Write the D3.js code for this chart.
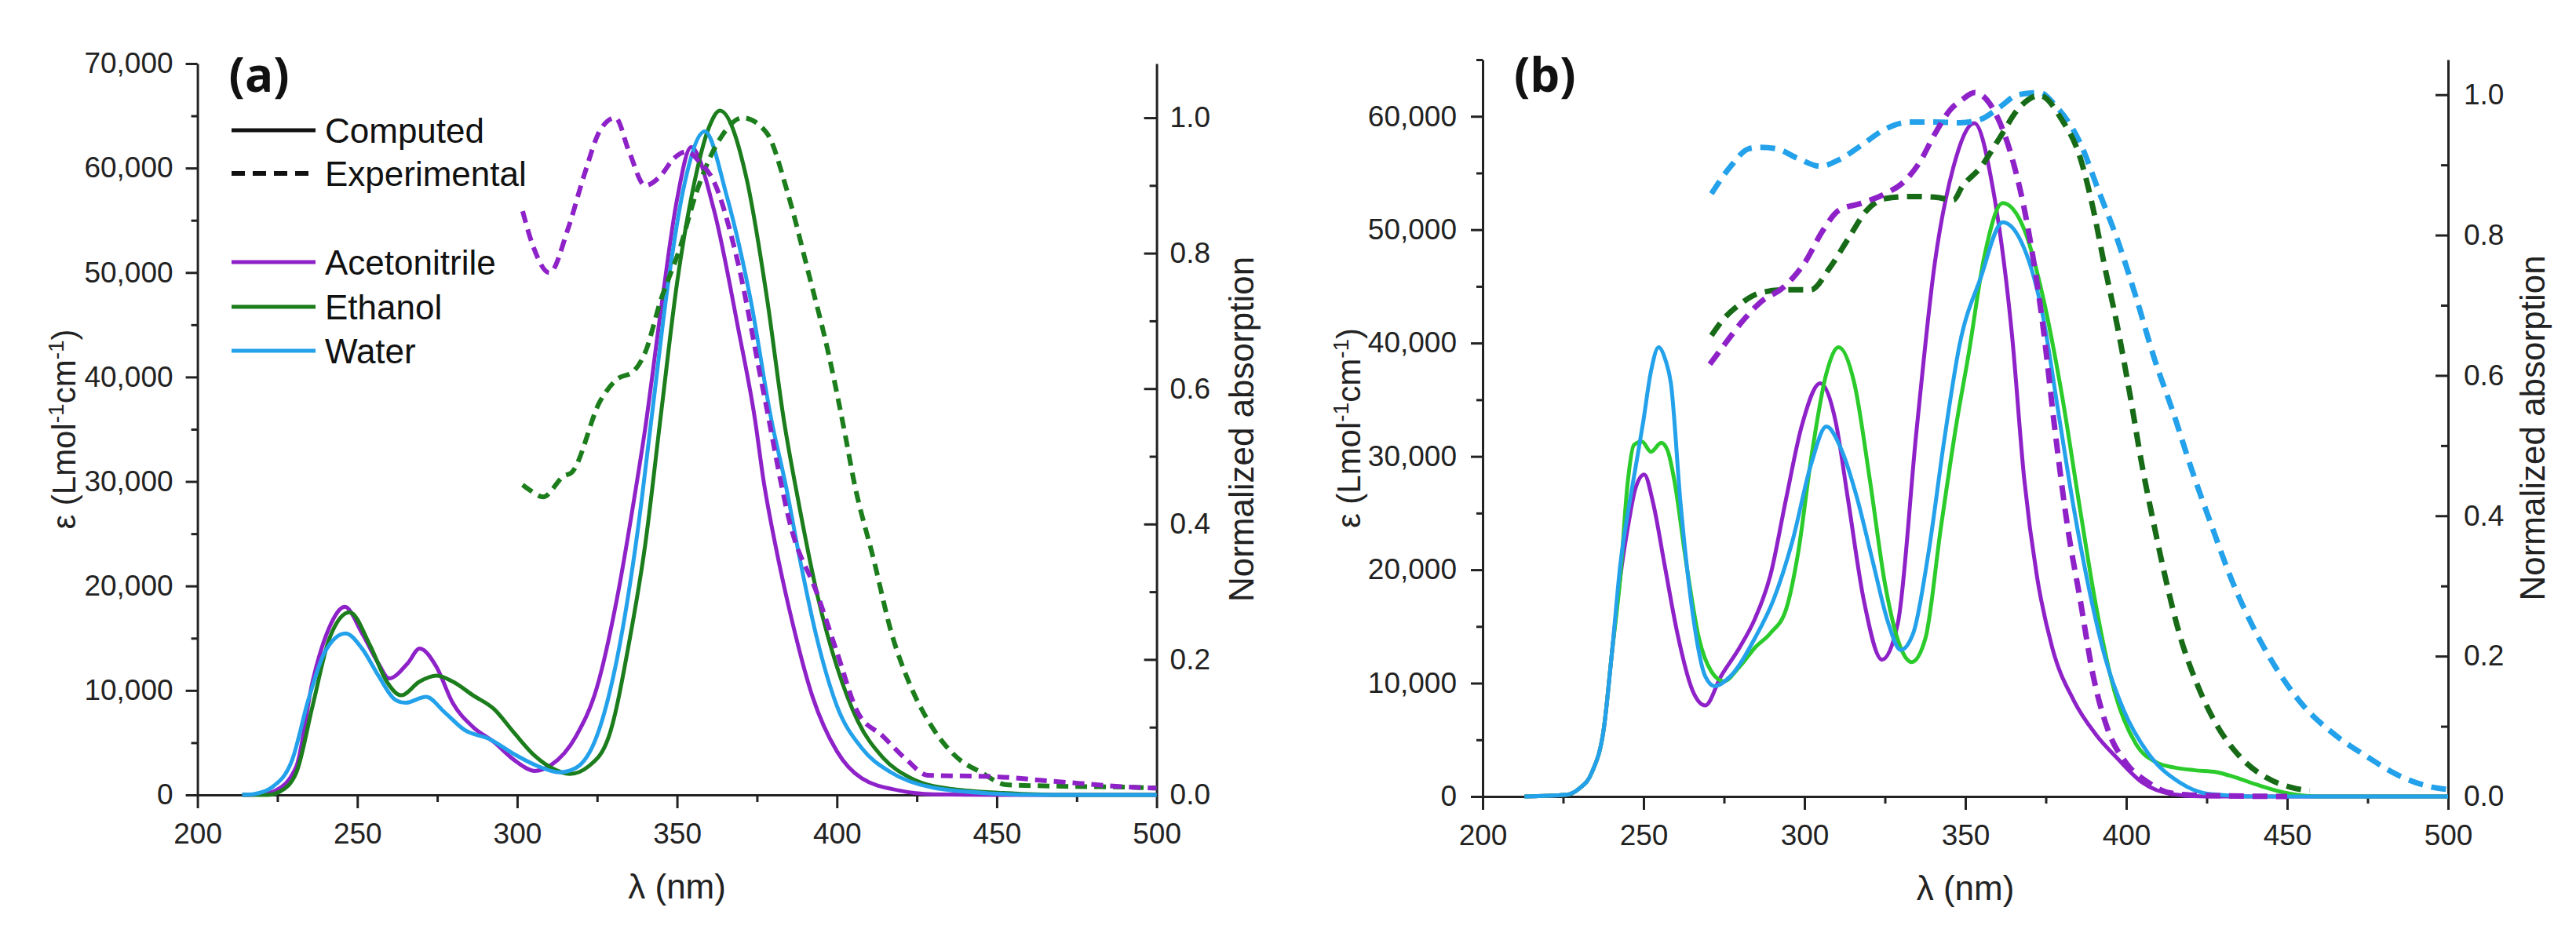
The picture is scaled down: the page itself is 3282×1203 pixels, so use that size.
<!DOCTYPE html>
<html>
<head>
<meta charset="utf-8">
<script src="https://cdn.jsdelivr.net/npm/d3@7"></script>
<style>
  body { margin: 0; background: #fff; }
  svg { display: block; font-family: 'Liberation Sans', Arial, sans-serif; }
</style>
</head>
<body>
<div id="chart"></div>
<script>
//
// Absorption spectra, computed (ε, left axis) and experimental (normalised, right axis)
//
const legendKinds = ['Computed', 'Experimental']
const solvents = ['Acetonitrile', 'Ethanol', 'Water']

const wavelengthTicks = [200, 250, 300, 350, 400, 450, 500]
const wavelengthMinorTicks = [225, 275, 325, 375, 425, 475]
const aEpsilonTicks = [0, 10000, 20000, 30000, 40000, 50000, 60000, 70000]
const aEpsilonMinorTicks = [5000, 15000, 25000, 35000, 45000, 55000, 65000]
const bEpsilonTicks = [0, 10000, 20000, 30000, 40000, 50000, 60000]
const bEpsilonMinorTicks = [5000, 15000, 25000, 35000, 45000, 55000, 65000]
const normTicks = [0, 0.2, 0.4, 0.6, 0.8, 1.0]
const normMinorTicks = [0.1, 0.3, 0.5, 0.7, 0.9]

// panel (a): [nm, ε] computed
const aAcnComputed = [[214, 0], [220, 80], [224.4, 420], [230.9, 2700], [236, 10850], [241.2, 16000], [246.1, 18000], [251.5, 15460], [256.6, 12580], [259.9, 11150], [265.7, 12580], [269.5, 14000], [274.7, 12280], [279.8, 8820], [286.2, 6490], [292.7, 5060], [299.1, 3330], [305.5, 2300], [310.7, 2880], [318.4, 5620], [324.9, 10250], [331.3, 18930], [336.5, 28180], [340, 35000], [345, 46500], [350, 57000], [354.4, 62000], [361.5, 56040], [369.2, 44530], [374.4, 35900], [377, 30210], [380.8, 23860], [386, 16620], [392.4, 9380], [400, 4180], [407.8, 1580], [419.5, 420], [430, 60], [450, 0], [500, 0]]
const aEthanolComputed = [[214, 0], [222, 0], [225.7, 300], [230.9, 2130], [236, 8520], [241.2, 14920], [247.6, 17480], [254, 14300], [259.2, 10850], [263.7, 9530], [269.5, 10850], [274.7, 11410], [279.8, 10850], [286.2, 9530], [292.7, 8230], [299.1, 5920], [305.5, 3740], [310.7, 2590], [316.5, 2010], [322.3, 2730], [328.7, 5620], [335.2, 14910], [340, 23860], [345, 36500], [350, 49000], [355, 58000], [360, 63900], [363.4, 65500], [371.8, 58920], [378.2, 47410], [383.4, 35900], [387.9, 28180], [393.6, 19510], [400, 12280], [406.5, 7090], [414.3, 3600], [423.3, 1580], [436, 560], [455.5, 135], [470, 0], [500, 0]]
const aWaterComputed = [[214, 0], [218, 100], [223.2, 710], [229.6, 3330], [234.7, 9120], [239.9, 13720], [246.3, 15460], [251.5, 14000], [256.6, 11410], [261.8, 9120], [265, 8820], [271.5, 9380], [277.2, 7940], [283.6, 6200], [291.4, 5340], [299.1, 3890], [305.5, 2880], [313.3, 2160], [318.4, 2590], [324.9, 5620], [331.3, 13140], [337.7, 25300], [342, 36000], [347, 48500], [352, 58000], [358.7, 63500], [365.4, 57490], [373, 47410], [379.5, 35900], [384, 29640], [388.5, 22430], [393.6, 15170], [400, 8520], [407.8, 4470], [416.9, 2160], [429.8, 710], [449, 135], [465, 0], [500, 0]]
// panel (a): [nm, normalised absorption] experimental
const aAcnExperimental = [[301.7, 0.862], [305, 0.81], [310.1, 0.771], [315.9, 0.836], [321, 0.916], [326, 0.982], [330.7, 1.0], [335, 0.95], [340, 0.9], [345, 0.915], [349, 0.94], [353, 0.95], [357, 0.935], [361.5, 0.906], [368.6, 0.795], [377, 0.596], [386, 0.389], [393.6, 0.3], [400, 0.211], [406.5, 0.122], [414.3, 0.087], [422, 0.051], [428.4, 0.029], [449, 0.027], [468, 0.02], [494, 0.011], [500, 0.01]]
const aEthanolExperimental = [[301.7, 0.458], [304, 0.45], [308.1, 0.44], [314.6, 0.471], [317, 0.476], [326, 0.582], [331, 0.613], [336.5, 0.626], [340, 0.653], [344.8, 0.729], [351, 0.809], [356, 0.889], [364, 0.973], [370.5, 1.0], [378, 0.978], [384.6, 0.889], [391, 0.773], [397.5, 0.649], [402.7, 0.529], [405.3, 0.464], [411.7, 0.344], [416.9, 0.242], [423.3, 0.158], [429.8, 0.1], [437.4, 0.056], [445.2, 0.033], [453, 0.015], [468, 0.013], [494, 0.011], [500, 0.01]]

// panel (b): [nm, ε] computed
const bAcnComputed = [[213, 0], [226, 150], [230, 700], [233.9, 2100], [237.7, 6090], [240.2, 12750], [242.8, 19420], [245.4, 24200], [247.5, 27200], [250.2, 28400], [253, 25850], [256.6, 20330], [260.5, 14400], [265.3, 9300], [269.2, 8030], [274, 10580], [279.8, 13120], [284.6, 15670], [289.4, 19490], [294.3, 26270], [299.1, 32630], [304.9, 36450], [309.7, 33060], [313.5, 26270], [318.4, 17370], [324.1, 12070], [329, 15250], [334.8, 32200], [340.5, 47050], [346.3, 55540], [352.8, 59400], [358.7, 53410], [364.5, 40690], [368.3, 27980], [372.2, 19490], [377, 13120], [383.7, 8460], [390.5, 5490], [397.2, 3370], [404.9, 1250], [414.6, 200], [425, 0], [500, 0]]
const bEthanolComputed = [[213, 0], [226, 150], [230, 700], [233.9, 2100], [237.7, 6090], [240.2, 12750], [242.8, 19420], [245, 27500], [247, 31000], [249.5, 31300], [252.3, 30400], [255.5, 31200], [257.5, 30500], [259.5, 27980], [263.4, 20330], [267.2, 13970], [271.1, 11010], [274.9, 10160], [279.8, 11430], [284.6, 13120], [289.4, 14400], [294.3, 16520], [298.1, 21610], [302, 29670], [306.8, 37300], [310.6, 39630], [315.5, 36450], [320.3, 27980], [325.1, 18640], [329.9, 13120], [333.3, 11860], [337.6, 13970], [342.4, 23730], [347.3, 33000], [351, 39000], [355.8, 47500], [361.6, 52350], [368.3, 50020], [374.1, 44090], [379.9, 35600], [385.6, 25420], [390.5, 16970], [396.3, 9310], [403, 4640], [409.8, 2950], [415, 2550], [421.4, 2310], [428, 2150], [433.9, 1680], [440.6, 1040], [450.2, 280], [460, 0], [500, 0]]
const bWaterComputed = [[213, 0], [226, 150], [230, 700], [233.9, 2100], [237.7, 6090], [240.2, 12750], [242.8, 20500], [245.4, 25500], [247.5, 29000], [249.9, 33060], [252.3, 37500], [254.7, 39630], [256.8, 38500], [258.5, 36450], [261.5, 25850], [265.3, 16090], [269.2, 10580], [272.1, 9730], [276.9, 10580], [284.6, 13970], [290.4, 17370], [296.2, 22460], [302, 29240], [306.8, 32630], [311.6, 30510], [316.4, 26270], [321.2, 20760], [326.1, 15250], [329.9, 12920], [333.8, 14400], [338.6, 21610], [343.4, 31370], [348.2, 39840], [354.8, 45780], [361.6, 50660], [368.3, 48340], [374.1, 42380], [378.9, 33900], [383.7, 25420], [388.5, 18210], [393.4, 12280], [399.2, 7620], [406.8, 3810], [416.5, 1250], [426.2, 200], [440, 0], [500, 0]]
// panel (b): [nm, normalised absorption] experimental
const bAcnExperimental = [[270.6, 0.616], [275, 0.643], [280.7, 0.677], [286.5, 0.705], [293.3, 0.725], [300, 0.76], [305.8, 0.807], [310.6, 0.835], [317.4, 0.845], [325.1, 0.859], [330.9, 0.876], [335.7, 0.903], [340.5, 0.944], [345.4, 0.979], [349, 0.993], [352.9, 1.003], [358.7, 0.979], [364.5, 0.91], [369.3, 0.814], [374.1, 0.671], [377.9, 0.52], [381.8, 0.383], [385.7, 0.28], [389.5, 0.177], [394.3, 0.095], [400.1, 0.047], [406.8, 0.02], [412.7, 0.006], [420, 0.002], [450, 0]]
const bEthanolExperimental = [[271.1, 0.657], [275, 0.681], [279.8, 0.701], [286.5, 0.718], [294.3, 0.722], [302, 0.722], [307.8, 0.753], [313.5, 0.794], [319.3, 0.835], [325.1, 0.852], [332.8, 0.855], [340.5, 0.854], [346.3, 0.85], [349, 0.869], [354.8, 0.897], [360.6, 0.938], [366.3, 0.979], [373.1, 0.999], [379.9, 0.965], [385.7, 0.91], [389.5, 0.842], [393.4, 0.753], [397.2, 0.671], [401.1, 0.574], [404.9, 0.472], [408.8, 0.383], [412.7, 0.301], [416.5, 0.232], [422.3, 0.157], [428.1, 0.102], [435.9, 0.054], [443.5, 0.027], [451.2, 0.013], [457, 0.008]]
const bWaterExperimental = [[271.1, 0.859], [276.9, 0.897], [282.7, 0.923], [286.5, 0.925], [291.3, 0.923], [298.1, 0.909], [304.9, 0.898], [310.6, 0.907], [317.4, 0.927], [325.1, 0.951], [332.8, 0.961], [340.5, 0.961], [348.2, 0.96], [354.8, 0.965], [360.6, 0.982], [366.3, 1.0], [373.1, 1.003], [377.9, 0.985], [385.7, 0.931], [391.5, 0.862], [397.2, 0.794], [403, 0.712], [408.8, 0.623], [414.6, 0.547], [420.4, 0.465], [426.2, 0.39], [432.9, 0.307], [439.7, 0.239], [447.4, 0.177], [455.1, 0.129], [464.8, 0.088], [474.4, 0.058], [486, 0.027], [496.6, 0.012], [500, 0.01]]

//
// colours
//
const purple = '#8e22c8'
const darkGreen = '#1b7d1b'
const blue = '#23a1ea'
const brightGreen = '#2bcb2b'
const deepGreen = '#176b17'
const axisColour = '#222'

const svg = d3.select('#chart')
  .append('svg')
  .attr('width', 3282)
  .attr('height', 1203)

//
// style an axis group
//
function styleAxis (sel, fontSize) {
  sel.select('.domain').attr('stroke', axisColour).attr('stroke-width', 3)
  sel.selectAll('.tick line').attr('stroke', axisColour).attr('stroke-width', 3)
  sel.selectAll('.tick text')
    .attr('fill', axisColour)
    .style('font-size', fontSize + 'px')
    .style('font-family', "'Liberation Sans', Arial, sans-serif")
}

function drawPanel (p) {
  const x = d3.scaleLinear().domain([200, 500]).range([p.left, p.right])
  const y = d3.scaleLinear().domain([0, p.epsMax]).range([p.bottom, p.top])
  const yn = d3.scaleLinear().domain([0, p.normMax]).range([p.bottom, p.top])
  const g = svg.append('g')

  // bottom axis
  g.append('g').attr('transform', 'translate(0,' + p.bottom + ')')
    .call(d3.axisBottom(x).tickValues(wavelengthTicks).tickSize(17).tickSizeOuter(0).tickPadding(19))
    .call(s => styleAxis(s, 37))
  g.append('g').attr('transform', 'translate(0,' + p.bottom + ')')
    .call(d3.axisBottom(x).tickValues(wavelengthMinorTicks).tickSize(9).tickFormat(''))
    .call(s => { styleAxis(s, 37); s.select('.domain').remove() })

  // left axis
  g.append('g').attr('transform', 'translate(' + p.left + ',0)')
    .call(d3.axisLeft(y).tickValues(p.epsTicks).tickSize(15).tickSizeOuter(0).tickPadding(p.leftPad).tickFormat(d3.format(',')))
    .call(s => styleAxis(s, 37))
  g.append('g').attr('transform', 'translate(' + p.left + ',0)')
    .call(d3.axisLeft(y).tickValues(p.epsMinorTicks).tickSize(8).tickFormat(''))
    .call(s => { styleAxis(s, 37); s.select('.domain').remove() })

  // right axis, ticks pointing into the plot
  g.append('g').attr('transform', 'translate(' + p.right + ',0)')
    .call(d3.axisRight(yn).tickValues(normTicks).tickSize(-16).tickSizeOuter(0).tickPadding(p.rightPad).tickFormat(d3.format('.1f')))
    .call(s => styleAxis(s, 37))
  g.append('g').attr('transform', 'translate(' + p.right + ',0)')
    .call(d3.axisRight(yn).tickValues(normMinorTicks).tickSize(-9).tickFormat(''))
    .call(s => { styleAxis(s, 37); s.select('.domain').remove() })

  // axis titles
  const midY = (p.top + p.bottom) / 2
  g.append('text')
    .attr('x', (p.left + p.right) / 2).attr('y', p.bottom + 132)
    .attr('text-anchor', 'middle').attr('fill', axisColour)
    .style('font-size', '44px')
    .text('λ (nm)')

  const eps = g.append('text')
    .attr('transform', 'translate(' + (p.left - 156) + ',' + midY + ') rotate(-90)')
    .attr('text-anchor', 'middle').attr('fill', axisColour)
    .style('font-size', '42px')
  eps.append('tspan').text('ε (Lmol')
  eps.append('tspan').attr('dy', -15).style('font-size', '28px').text('-1')
  eps.append('tspan').attr('dy', 15).text('cm')
  eps.append('tspan').attr('dy', -15).style('font-size', '28px').text('-1')
  eps.append('tspan').attr('dy', 15).text(')')

  g.append('text')
    .attr('transform', 'translate(' + (p.right + 123) + ',' + midY + ') rotate(-90)')
    .attr('text-anchor', 'middle').attr('fill', axisColour)
    .style('font-size', '44px')
    .text('Normalized absorption')

  // panel letter
  g.append('text')
    .attr('x', p.left + 40).attr('y', 117)
    .attr('fill', '#111')
    .style('font-family', "'Open Sans', sans-serif")
    .style('font-weight', 700)
    .style('font-size', '60px')
    .text(p.label)

  // curves
  const lineEps = d3.line().x(d => x(d[0])).y(d => y(d[1])).curve(d3.curveMonotoneX)
  const lineNorm = d3.line().x(d => x(d[0])).y(d => yn(d[1])).curve(d3.curveMonotoneX)
  p.series.forEach(function (s) {
    g.append('path')
      .datum(s.data)
      .attr('fill', 'none')
      .attr('stroke', s.colour)
      .attr('stroke-width', s.dashed ? p.dashWidth : 5)
      .attr('stroke-dasharray', s.dashed ? p.dash : null)
      .attr('stroke-linejoin', 'round')
      .attr('d', s.dashed ? lineNorm : lineEps)
  })
  return g
}

drawPanel({
  label: '(a)',
  left: 251.6, right: 1473.6, top: 81, bottom: 1013,
  epsMax: 70000, normMax: 1.08,
  epsTicks: aEpsilonTicks, epsMinorTicks: aEpsilonMinorTicks,
  leftPad: 16, rightPad: 17,
  dash: '15,9', dashWidth: 6,
  series: [
    { data: aAcnComputed, colour: purple },
    { data: aEthanolComputed, colour: darkGreen },
    { data: aWaterComputed, colour: blue },
    { data: aEthanolExperimental, colour: darkGreen, dashed: true },
    { data: aAcnExperimental, colour: purple, dashed: true }
  ]
})

drawPanel({
  label: '(b)',
  left: 1889, right: 3119, top: 76, bottom: 1015,
  epsMax: 65000, normMax: 1.05,
  epsTicks: bEpsilonTicks, epsMinorTicks: bEpsilonMinorTicks,
  leftPad: 18, rightPad: 20,
  dash: '19,11', dashWidth: 7,
  series: [
    { data: bAcnComputed, colour: purple },
    { data: bEthanolComputed, colour: brightGreen },
    { data: bWaterComputed, colour: blue },
    { data: bWaterExperimental, colour: blue, dashed: true },
    { data: bEthanolExperimental, colour: deepGreen, dashed: true },
    { data: bAcnExperimental, colour: purple, dashed: true }
  ]
})

//
// legend in panel (a)
//
const legend = svg.append('g').attr('transform', 'translate(295,0)')
const legendRows = [
  { text: legendKinds[0], colour: '#111', dashed: false, y: 166 },
  { text: legendKinds[1], colour: '#111', dashed: true, y: 221 },
  { text: solvents[0], colour: purple, dashed: false, y: 334 },
  { text: solvents[1], colour: darkGreen, dashed: false, y: 391 },
  { text: solvents[2], colour: blue, dashed: false, y: 447 }
]
legendRows.forEach(function (r) {
  legend.append('line')
    .attr('x1', 0).attr('x2', r.dashed ? 99 : 107)
    .attr('y1', r.y).attr('y2', r.y)
    .attr('stroke', r.colour)
    .attr('stroke-width', r.dashed ? 6 : 5)
    .attr('stroke-dasharray', r.dashed ? '17,10' : null)
  legend.append('text')
    .attr('x', 119).attr('y', r.y + 15.5)
    .attr('fill', '#111')
    .style('font-size', '44px')
    .text(r.text)
})
</script>
</body>
</html>
